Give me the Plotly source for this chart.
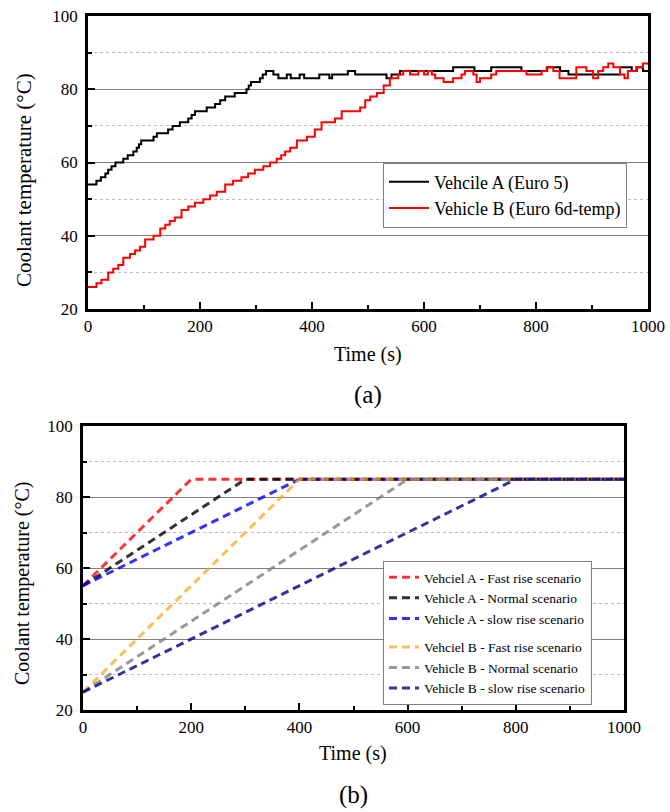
import plotly.graph_objects as go

# ---------------- Data: panel (a) measured coolant temperature ----------------
time_a = [0, 15, 23, 31, 36, 42, 49, 63, 71, 81, 87, 91, 95, 117, 123, 143, 151, 164, 179, 185,
          191, 212, 227, 236, 245, 262, 283, 287, 291, 307, 312, 318, 331, 340, 355, 362, 378, 386,
          413, 431, 436, 464, 477, 533, 542, 557, 652, 690, 720, 774, 820, 843, 858, 950, 971, 980,
          991, 1000]
temp_a = [54, 55, 56, 57, 58, 59, 60, 61, 62, 63, 64, 65, 66, 67, 68, 69, 70, 71, 72, 73,
          74, 75, 76, 77, 78, 79, 80, 81, 82, 83, 84, 85, 84, 83, 84, 83, 84, 83,
          84, 83, 84, 85, 84, 83, 84, 85, 86, 85, 86, 85, 86, 85, 84, 86, 85, 86,
          85, 85]

time_b = [0, 15, 24, 36, 45, 54, 63, 75, 84, 93, 102, 117, 129, 138, 146, 155, 167, 179, 191,
          206, 218, 230, 245, 259, 274, 286, 298, 313, 325, 337, 345, 352, 361, 373, 391, 405,
          417, 441, 453, 486, 495, 504, 516, 528, 539, 554, 563, 575, 590, 600, 607, 614, 620,
          635, 652, 667, 673, 688, 694, 700, 720, 729, 783, 810, 819, 831, 842, 872, 890, 902,
          911, 920, 929, 938, 950, 958, 964, 979, 991, 1000]
temp_b = [26, 27, 28, 30, 31, 32, 34, 35, 36, 37, 39, 40, 42, 43, 44, 45, 47, 48, 49,
          50, 51, 52, 54, 55, 56, 57, 58, 59, 60, 61, 62, 63, 64, 66, 67, 69,
          71, 72, 74, 75, 77, 78, 79, 81, 83, 84, 85, 84, 85, 84, 85, 84, 83,
          82, 83, 84, 85, 84, 82, 83, 84, 85, 84, 85, 86, 85, 83, 86, 85, 83,
          85, 86, 87, 86, 84, 83, 85, 86, 87, 87]

# ---------------- Data: panel (b) scenarios ----------------
a_fast_t, a_fast_v = [0, 200, 1000], [55, 85, 85]
a_norm_t, a_norm_v = [0, 300, 1000], [55, 85, 85]
a_slow_t, a_slow_v = [0, 400, 1000], [55, 85, 85]
b_fast_t, b_fast_v = [0, 400, 1000], [25, 85, 85]
b_norm_t, b_norm_v = [0, 600, 1000], [25, 85, 85]
b_slow_t, b_slow_v = [0, 800, 1000], [25, 85, 85]

x_ticks = [0, 200, 400, 600, 800, 1000]
y_ticks = [20, 40, 60, 80, 100]

W, H = 670, 812
FONT = "Liberation Serif, Times New Roman, Times, DejaVu Serif, serif"


def px(x):
    return x / W


def py(y):
    return 1 - y / H


fig = go.Figure()

fig.add_trace(go.Scatter(x=time_a, y=temp_a, mode="lines", line=dict(color="black", width=2, shape="hv"),
                         name="Vehcile A (Euro 5)", xaxis="x", yaxis="y", legend="legend"))
fig.add_trace(go.Scatter(x=time_b, y=temp_b, mode="lines", line=dict(color="#ff0000", width=2, shape="hv"),
                         name="Vehicle B (Euro 6d-temp)", xaxis="x", yaxis="y", legend="legend"))

scen = [
    (a_fast_t, a_fast_v, "rgba(255,0,0,0.8)", "Vehciel A - Fast rise scenario", "A"),
    (a_norm_t, a_norm_v, "rgba(0,0,0,0.8)", "Vehicle A - Normal scenario", "A"),
    (a_slow_t, a_slow_v, "rgba(0,0,255,0.8)", "Vehicle A - slow rise scenario", "A"),
    (b_fast_t, b_fast_v, "rgba(250,168,30,0.75)", "Vehciel B - Fast rise scenario", "B"),
    (b_norm_t, b_norm_v, "rgba(128,128,128,0.8)", "Vehicle B - Normal scenario", "B"),
    (b_slow_t, b_slow_v, "rgba(0,0,128,0.8)", "Vehicle B - slow rise scenario", "B"),
]
for t, v, c, n, g in scen:
    fig.add_trace(go.Scatter(x=t, y=v, mode="lines", line=dict(color=c, width=3, dash="8px,5px"),
                             name=n, legendgroup=g, xaxis="x2", yaxis="y2", legend="legend2"))

axis_common = dict(showline=True, linewidth=2.5, linecolor="black", mirror=True, zeroline=False,
                   automargin=False,
                   ticks="inside", tickwidth=2, ticklen=7, tickcolor="black",
                   tickfont=dict(family=FONT, size=17, color="black"))
xcommon = dict(axis_common, range=[0, 1000], tickvals=x_ticks, showgrid=False,
               minor=dict(dtick=100, ticks="inside", ticklen=4, tickwidth=1.5, tickcolor="black", showgrid=False))
ycommon = dict(axis_common, range=[20, 100], tickvals=y_ticks, showgrid=True, gridcolor="#808080", gridwidth=1,
               ticklabelstandoff=4,
               minor=dict(dtick=10, ticks="inside", ticklen=4, tickwidth=1.5, tickcolor="black",
                          showgrid=True, gridcolor="#bdbdbd", griddash="3px,3px", gridwidth=1))

fig.update_layout(
    width=W, height=H, margin=dict(l=0, r=0, t=0, b=0, autoexpand=False),
    plot_bgcolor="white", paper_bgcolor="white",
    xaxis=dict(xcommon, domain=[px(88), px(648)], anchor="y"),
    yaxis=dict(ycommon, domain=[py(309), py(16)], anchor="x"),
    xaxis2=dict(xcommon, domain=[px(83), px(624)], anchor="y2"),
    yaxis2=dict(ycommon, domain=[py(710), py(426)], anchor="x2"),
    legend=dict(x=px(383), y=py(195), xanchor="left", yanchor="middle",
                bordercolor="#808080", borderwidth=1, bgcolor="white",
                font=dict(family=FONT, size=18, color="black"), itemwidth=40, tracegroupgap=0),
    legend2=dict(x=px(383), y=py(705), xanchor="left", yanchor="bottom",
                 bordercolor="#808080", borderwidth=1, bgcolor="white", traceorder="grouped",
                 font=dict(family=FONT, size=13.5, color="black"), itemwidth=30, tracegroupgap=8),
    showlegend=True,
)

ann = [
    dict(text="Coolant temperature (°C)", x=px(24), y=py(180), textangle=-90, size=21),
    dict(text="Time (s)", x=px(368), y=py(354), textangle=0, size=20),
    dict(text="(a)", x=px(368), y=py(395), textangle=0, size=25),
    dict(text="Coolant temperature (°C)", x=px(22), y=py(583), textangle=-90, size=20),
    dict(text="Time (s)", x=px(353), y=py(753), textangle=0, size=20),
    dict(text="(b)", x=px(353), y=py(795), textangle=0, size=25),
]
for a in ann:
    fig.add_annotation(text=a["text"], x=a["x"], y=a["y"], xref="paper", yref="paper",
                       xanchor="center", yanchor="middle", textangle=a["textangle"], showarrow=False,
                       font=dict(family=FONT, size=a["size"], color="black"))

fig.write_html("out.html")
